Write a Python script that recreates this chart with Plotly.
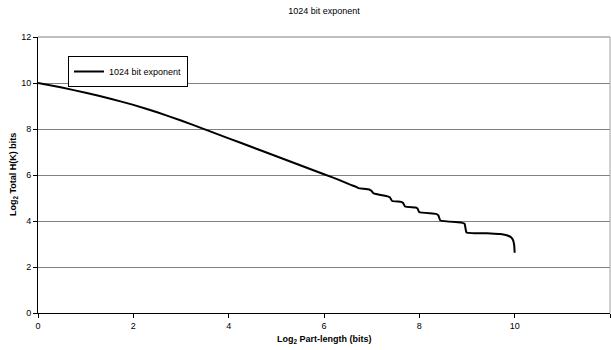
import plotly.graph_objects as go

title_text = "1024 bit exponent"
series_name = "1024 bit exponent"
x_title = "Log<sub>2</sub> Part-length (bits)"
y_title = "Log<sub>2</sub> Total H(K) bits"

part_length_log2 = [0.0, 0.5, 1.0, 1.5, 2.0, 2.5, 3.0, 3.5, 4.0, 4.5, 5.0,
                    5.5, 6.0, 6.3,
                    6.55, 6.68, 6.72, 6.95, 7.0, 7.04, 7.33, 7.38, 7.43, 7.62, 7.66, 7.70,
                    7.92, 7.96, 8.0, 8.35, 8.40, 8.44, 8.88, 8.95, 8.99, 9.5, 9.7, 9.85,
                    9.93, 9.97, 9.99, 10.0]
total_h_log2 = [10.0, 9.80, 9.58, 9.33, 9.05, 8.73, 8.37, 7.985, 7.595, 7.205, 6.815,
                6.425, 6.035, 5.8,
                5.58, 5.48, 5.43, 5.37, 5.3, 5.2, 5.07, 5.03, 4.87, 4.83, 4.78, 4.63,
                4.59, 4.55, 4.38, 4.31, 4.24, 4.02, 3.93, 3.88, 3.5, 3.46, 3.43, 3.37,
                3.28, 3.15, 2.95, 2.62]

x_ticks = [0, 2, 4, 6, 8, 10, 12]
y_ticks = [0, 2, 4, 6, 8, 10, 12]

font_family = "Liberation Sans, Arial, sans-serif"

fig = go.Figure()
fig.add_trace(go.Scatter(
    x=part_length_log2, y=total_h_log2, mode="lines", name=series_name,
    line=dict(color="black", width=2, shape="spline", smoothing=0.3),
    showlegend=True,
))

fig.update_layout(
    width=611, height=350,
    margin=dict(l=38, r=1, t=37, b=37),
    paper_bgcolor="white", plot_bgcolor="white",
    font=dict(family=font_family, size=9, color="black"),
    title=dict(text=title_text, x=(38 + 610) / 2 / 611, xanchor="center",
               y=1 - 11 / 350, yanchor="middle", font=dict(size=9)),
    showlegend=True,
    legend=dict(x=30 / 572, y=1 - 19 / 276, xanchor="left", yanchor="top",
                bordercolor="black", borderwidth=1, bgcolor="white",
                font=dict(size=9), itemwidth=30,
                tracegroupgap=0),
    xaxis=dict(range=[0, 12], tickvals=x_ticks, ticktext=[str(v) for v in x_ticks],
               showgrid=False, zeroline=False, showline=True, linecolor="black",
               linewidth=1, ticks="outside", ticklen=4, tickcolor="black",
               tickfont=dict(size=9), automargin=False),
    yaxis=dict(range=[0, 12], tickvals=y_ticks, ticktext=[str(v) for v in y_ticks],
               showgrid=True, gridcolor="#808080", gridwidth=1,
               zeroline=False, showline=True, linecolor="black",
               linewidth=1, ticks="outside", ticklen=4, tickcolor="black",
               tickfont=dict(size=9), automargin=False),
    annotations=[
        dict(text="<b>" + x_title + "</b>", xref="paper", yref="paper",
             x=0.5, y=-26 / 276, xanchor="center", yanchor="middle",
             showarrow=False, font=dict(size=9)),
        dict(text="<b>" + y_title + "</b>", xref="paper", yref="paper",
             x=-25 / 572, y=0.5, xanchor="center", yanchor="middle",
             textangle=-90, showarrow=False, font=dict(size=9)),
    ],
    shapes=[
        dict(type="line", xref="paper", yref="paper", x0=1, x1=1, y0=0, y1=1,
             line=dict(color="#a0a0a0", width=1)),
        dict(type="line", xref="paper", yref="paper", x0=0, x1=1, y0=1, y1=1,
             line=dict(color="#808080", width=1)),
    ],
)

fig.write_html("out.html",
               config={"displayModeBar": False},
               post_script="document.body.style.margin='0';document.body.style.overflow='hidden';")
